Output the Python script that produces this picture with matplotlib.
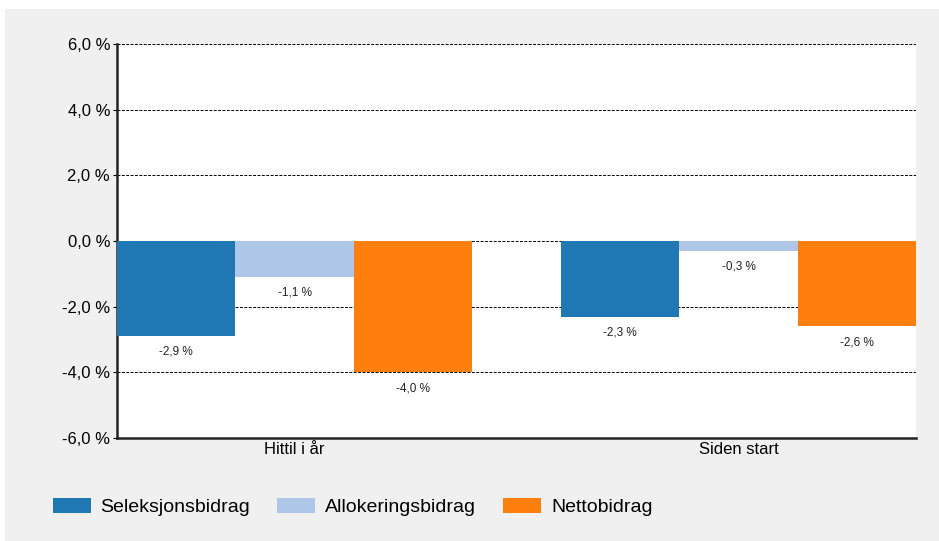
import matplotlib.pyplot as plt
from matplotlib.patches import Rectangle
import numpy as np

plt.rcParams['font.family'] = ['Liberation Sans', 'DejaVu Sans']

categories = ['Hittil i år', 'Siden start']
series = ['Seleksjonsbidrag', 'Allokeringsbidrag', 'Nettobidrag']
values = [
    [-2.9, -2.3],
    [-1.1, -0.3],
    [-4.0, -2.6],
]
colors = ['#1f77b4', '#aec7e8', '#ff7f0e']
yticks = [-6, -4, -2, 0, 2, 4, 6]


def pct(v):
    return f'{v:.1f} %'.replace('.', ',')


fig = plt.figure(figsize=(9.39, 5.41), dpi=100)
fig.patch.set_facecolor('white')
fig.patches.append(Rectangle((5 / 939, 0), 1, 1 - 9 / 541, transform=fig.transFigure,
                             facecolor='#f0f0f0', edgecolor='none', zorder=-10))

ax = fig.add_axes([117 / 939, 1 - 438 / 541, 799 / 939, 394 / 541])
ax.set_facecolor('white')

x = np.arange(len(categories))
w = 0.8 / len(series)
for i, (name, vals, c) in enumerate(zip(series, values, colors)):
    pos = x - 0.4 + w * (i + 0.5)
    ax.bar(pos, vals, width=w, color=c, label=name, zorder=3)
    for p, v in zip(pos, vals):
        ax.annotate(pct(v), (p, v), xytext=(0, -7), textcoords='offset points',
                    ha='center', va='top', fontsize=8.5, color='#222222', zorder=4)

ax.set_xlim(-0.4, 1.4)
ax.set_ylim(-6, 6)
ax.set_yticks(yticks)
ax.set_yticklabels([pct(t) for t in yticks], fontsize=12)
ax.set_xticks(x)
ax.set_xticklabels(categories, fontsize=12)
ax.tick_params(axis='x', length=0, pad=3)
ax.tick_params(axis='y', length=3, width=0.8, pad=2)
ax.yaxis.grid(True, linestyle=(0, (3, 1.5)), color='black', linewidth=0.7, zorder=0)
ax.set_axisbelow(True)
for s in ['top', 'right']:
    ax.spines[s].set_visible(False)
for s in ['left', 'bottom']:
    ax.spines[s].set_linewidth(1.8)
    ax.spines[s].set_color('#222222')

fig.legend(loc='center left', bbox_to_anchor=(45 / 939, 1 - 507 / 541), ncol=3,
           frameon=False, borderaxespad=0, fontsize=14, handlelength=1.95,
           handleheight=0.85, handletextpad=0.5, columnspacing=1.4)

fig.savefig('out.png', dpi=100, facecolor=fig.get_facecolor())
